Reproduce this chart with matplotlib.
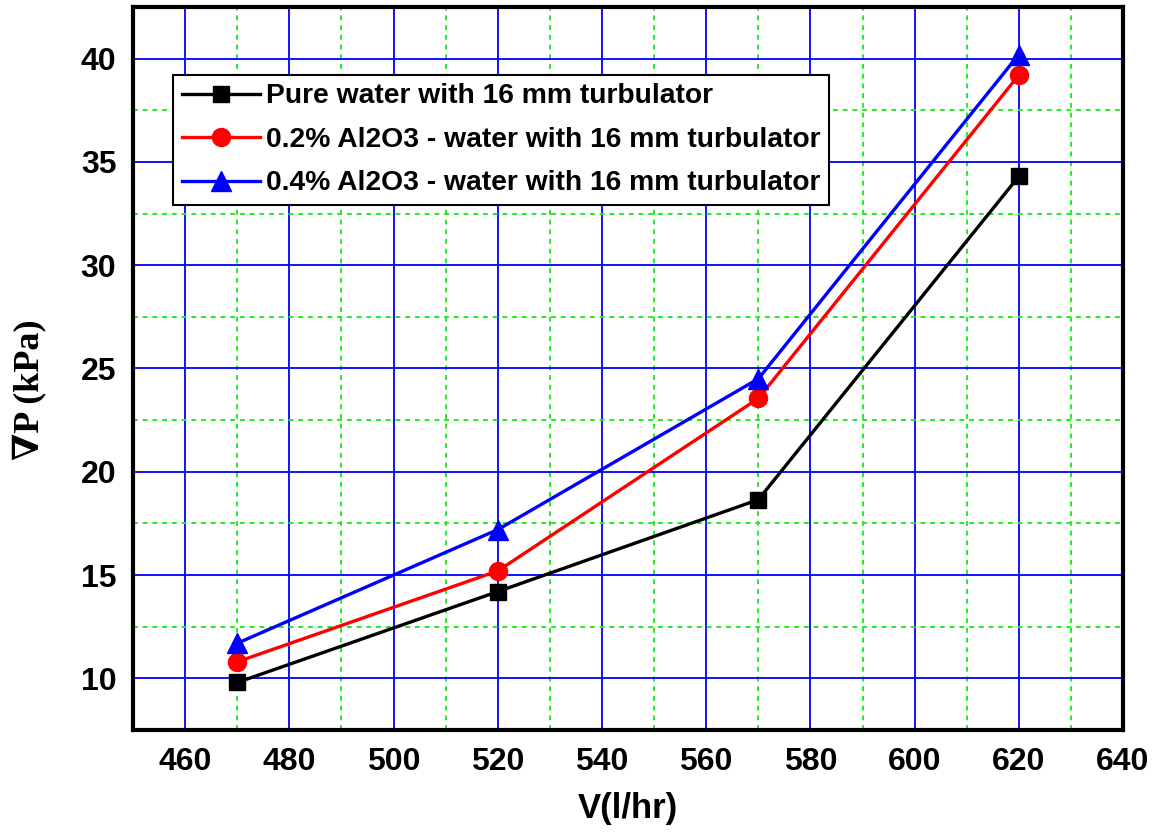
import matplotlib.pyplot as plt
from matplotlib.ticker import MultipleLocator

# data
flow = [470, 520, 570, 620]
pure_water = [9.8, 14.2, 18.65, 34.3]
al2o3_02 = [10.8, 15.2, 23.55, 39.2]
al2o3_04 = [11.7, 17.2, 24.5, 40.2]

labels = [
    "Pure water with 16 mm turbulator",
    "0.2% Al2O3 - water with 16 mm turbulator",
    "0.4% Al2O3 - water with 16 mm turbulator",
]

plt.rcParams['font.family'] = ['Liberation Sans', 'DejaVu Sans']
plt.rcParams['font.weight'] = 'bold'

fig = plt.figure(figsize=(11.61, 8.32), dpi=100)
ax = fig.add_axes([0.1146, 0.1226, 0.8527, 0.869])

ax.plot(flow, pure_water, color='black', lw=2.4, marker='s', ms=12, label=labels[0])
ax.plot(flow, al2o3_02, color='red', lw=2.4, marker='o', ms=13, label=labels[1])
ax.plot(flow, al2o3_04, color='blue', lw=2.4, marker='^', ms=14, label=labels[2])

ax.set_xlim(450, 640)
ax.set_ylim(7.5, 42.5)
ax.xaxis.set_major_locator(MultipleLocator(20))
ax.xaxis.set_minor_locator(MultipleLocator(10))
ax.yaxis.set_major_locator(MultipleLocator(5))
ax.yaxis.set_minor_locator(MultipleLocator(2.5))
ax.set_xticks(range(460, 641, 20))

ax.grid(which='major', color='blue', lw=1.3, ls='-')
ax.grid(which='minor', color='#22ee22', lw=1.4, ls=(0, (2.5, 2.5)))
ax.set_axisbelow(True)

ax.tick_params(which='both', length=0, labelsize=23, pad=12)
for lab in ax.get_xticklabels() + ax.get_yticklabels():
    lab.set_fontweight('bold')

for s in ax.spines.values():
    s.set_linewidth(3)
    s.set_color('black')

ax.set_xlabel("V(l/hr)", fontsize=25, fontweight='bold', labelpad=11)
ax.set_ylabel("\u2207P (kPa)", fontsize=26, fontweight='bold',
              family=['Liberation Serif', 'DejaVu Serif'])
ax.yaxis.set_label_coords(-0.088, 0.47)

leg = ax.legend(loc='upper left', bbox_to_anchor=(0.0404, 0.906), fontsize=20.3,
                frameon=True, fancybox=False, handlelength=2.8,
                borderpad=0.3, labelspacing=0.62, handletextpad=0.2,
                borderaxespad=0, framealpha=1)
leg.get_frame().set_edgecolor('black')
leg.get_frame().set_linewidth(1.5)
for t in leg.get_texts():
    t.set_fontweight('bold')

fig.savefig('out.png', dpi=100)
